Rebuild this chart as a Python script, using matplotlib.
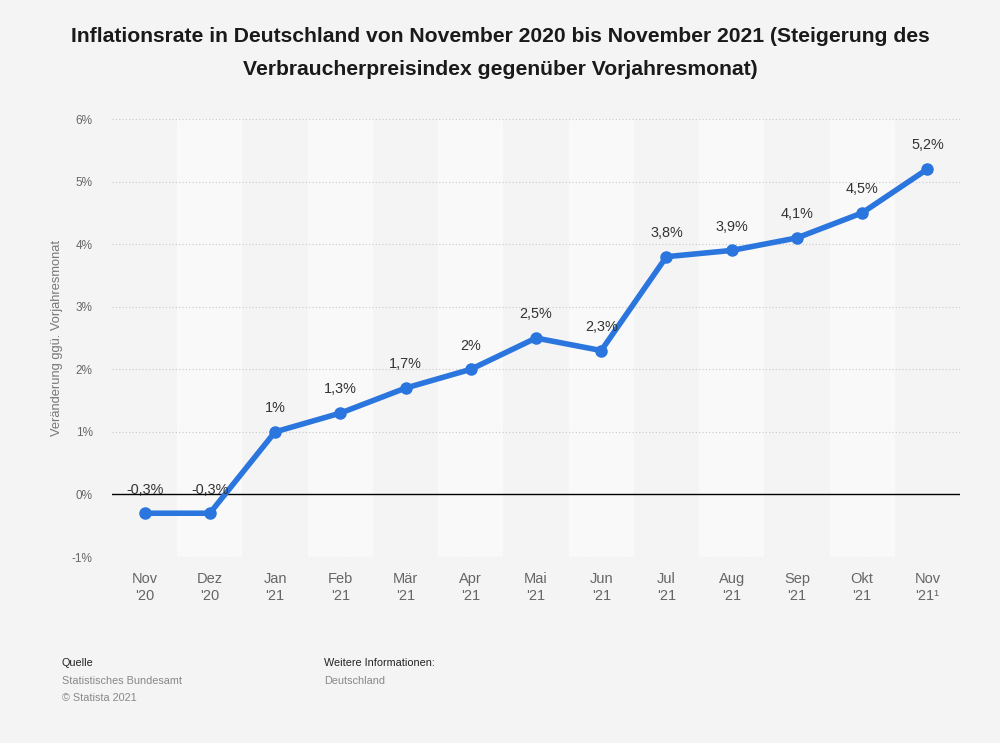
import matplotlib.pyplot as plt
import numpy as np

plt.rcParams['font.family'] = ['Liberation Sans', 'DejaVu Sans']

# data
months = ["Nov\n'20", "Dez\n'20", "Jan\n'21", "Feb\n'21", "Mär\n'21", "Apr\n'21", "Mai\n'21",
          "Jun\n'21", "Jul\n'21", "Aug\n'21", "Sep\n'21", "Okt\n'21", "Nov\n'21¹"]
rate = [-0.3, -0.3, 1.0, 1.3, 1.7, 2.0, 2.5, 2.3, 3.8, 3.9, 4.1, 4.5, 5.2]
value_labels = ["-0,3%", "-0,3%", "1%", "1,3%", "1,7%", "2%", "2,5%", "2,3%",
                "3,8%", "3,9%", "4,1%", "4,5%", "5,2%"]
yticks = [-1, 0, 1, 2, 3, 4, 5, 6]

bg = '#f4f4f4'
fig = plt.figure(figsize=(10, 7.43), dpi=100, facecolor=bg)
ax = fig.add_axes([0.112, 0.2503, 0.848, 0.5895])
ax.set_facecolor(bg)

x = np.arange(len(months))

# alternating column stripes
for i in x:
    if i % 2 == 1:
        ax.axvspan(i - 0.5, i + 0.5, color='#f9f9f9', zorder=0, lw=0)

# grid
for t in yticks:
    if t != 0:
        ax.axhline(t, color='#c8c8c8', lw=0.8, ls=(0, (1, 2)), zorder=1)
ax.axhline(0, color='black', lw=1, zorder=2)

ax.plot(x, rate, color='#2a75de', lw=4, marker='o', ms=8, zorder=3,
        solid_capstyle='round', solid_joinstyle='round')

for xi, v, lab in zip(x, rate, value_labels):
    ax.annotate(lab, (xi, v), xytext=(0, 12), textcoords='offset points',
                ha='center', va='bottom', fontsize=10.4, color='#333333', zorder=4)

ax.set_xlim(-0.5, len(months) - 0.5)
ax.set_ylim(-1, 6)
ax.set_xticks(x)
ax.set_xticklabels(months, fontsize=10.5, color='#666666', linespacing=1.25)
ax.set_yticks(yticks)
ax.set_yticklabels([f"{t}%" for t in yticks], fontsize=8.5, color='#666666')
ax.tick_params(axis='both', length=0)
ax.tick_params(axis='x', pad=11)
ax.tick_params(axis='y', pad=14)
for s in ax.spines.values():
    s.set_visible(False)

ax.set_ylabel("Veränderung ggü. Vorjahresmonat", fontsize=9.3, color='#777777', labelpad=6)

fig.text(0.5, 0.951, "Inflationsrate in Deutschland von November 2020 bis November 2021 (Steigerung des",
         ha='center', va='center', fontsize=15.2, fontweight='bold', color='#1a1a1a')
fig.text(0.5, 0.907, "Verbraucherpreisindex gegenüber Vorjahresmonat)",
         ha='center', va='center', fontsize=15.2, fontweight='bold', color='#1a1a1a')

# footer
fig.text(0.062, 0.107, "Quelle", fontsize=7.8, color='#222222', va='center')
fig.text(0.062, 0.083, "Statistisches Bundesamt", fontsize=7.8, color='#888888', va='center')
fig.text(0.062, 0.061, "© Statista 2021", fontsize=7.8, color='#888888', va='center')
fig.text(0.324, 0.107, "Weitere Informationen:", fontsize=7.8, color='#222222', va='center')
fig.text(0.324, 0.083, "Deutschland", fontsize=7.8, color='#888888', va='center')

fig.savefig('out.png', dpi=100, facecolor=bg)
